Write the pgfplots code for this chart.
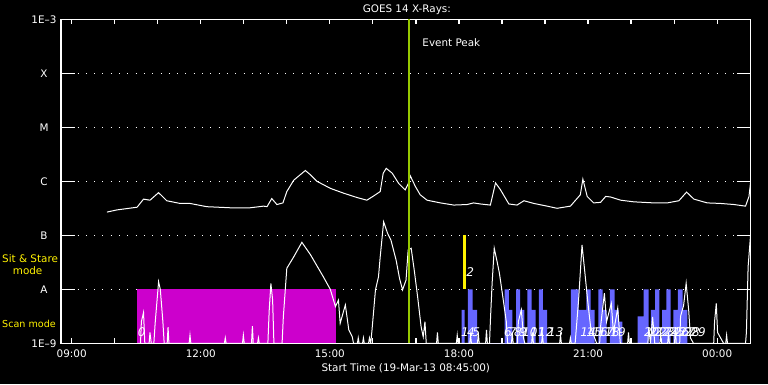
\documentclass[border=0pt]{standalone}
\usepackage{pgfplots}
\pgfplotsset{compat=1.18}
\usepackage{fontspec}
\setmainfont{DejaVu Sans}
\definecolor{scanmag}{RGB}{204,0,204}
\definecolor{scanblue}{RGB}{102,102,255}
\definecolor{peakgreen}{RGB}{150,200,0}
\newcommand{\lbl}{\fontsize{10.4}{12}\selectfont}
\newcommand{\num}{\fontsize{12}{12}\selectfont\itshape}
\begin{document}
\begin{tikzpicture}
\useasboundingbox (0,0) rectangle (768pt,384pt);
\fill[black] (0,0) rectangle (768pt,384pt);
\begin{axis}[
  at={(60.9pt,40.7pt)}, anchor=south west,
  scale only axis, width=689.8pt, height=324pt,
  xmin=8.75, xmax=24.78, ymin=-9, ymax=-3,
  axis line style={white, line width=1.2pt},
  tick style={white, line width=1.2pt},
  tick align=inside, xtick pos=both, ytick pos=both,
  xtick={9,...,24},
  xticklabels={09:00,,,12:00,,,15:00,,,18:00,,,21:00,,,00:00},
  ytick={-9,...,-3},
  yticklabels={1E–9,A,B,C,M,X,1E–3},
  xtick style={/pgfplots/major tick length=5pt},
  ytick style={/pgfplots/major tick length=14pt},
  ymajorgrids,
  grid style={white, line width=1pt, dash pattern=on 1pt off 7.3pt},
  tick label style={white, font=\lbl},
  xticklabel style={anchor=center, yshift=-10.7pt},
  yticklabel style={anchor=center, xshift=-16.9pt},
  xlabel={Start Time (19-Mar-13 08:45:00)},
  xlabel style={white, font=\lbl, at={(axis description cs:0.5,0)}, anchor=center, yshift=-24.7pt},
  no markers,
]
% scan mode block
\addplot[fill=scanmag, draw=none] coordinates {(10.52,-9) (10.52,-8) (15.14,-8) (15.14,-9)} -- cycle;
% scan bars
\addplot[const plot, fill=scanblue, draw=none] coordinates {
(18.06,-9) (18.06,-8.38) (18.13,-9) (18.21,-8) (18.32,-8.38) (18.42,-9)
(19.06,-8) (19.16,-8.38) (19.24,-9) (19.33,-8) (19.42,-8.38) (19.52,-9)
(19.59,-8) (19.69,-8.38) (19.78,-9) (19.86,-8) (19.95,-8.38) (20.05,-9) (20.05,-9)} -- cycle;
\addplot[const plot, fill=scanblue, draw=none] coordinates {
(20.60,-9) (20.60,-8) (20.78,-8.38) (20.96,-8) (21.06,-8.38) (21.15,-9)
(21.24,-8) (21.34,-8.38) (21.43,-9) (21.51,-8) (21.62,-8.38) (21.71,-8.6) (21.80,-9) (21.80,-9)} -- cycle;
\addplot[const plot, fill=scanblue, draw=none] coordinates {
(22.15,-9) (22.15,-8.5) (22.29,-8) (22.41,-9) (22.46,-8.38) (22.56,-8) (22.66,-9)
(22.72,-8.38) (22.82,-8) (22.92,-9) (22.98,-8.38) (23.09,-8) (23.20,-8.38) (23.31,-9) (23.31,-9)} -- cycle;
% sit & stare
\addplot[fill=yellow, draw=none] coordinates {(18.09,-8) (18.09,-7) (18.16,-7) (18.16,-8)} -- cycle;
% long channel
\addplot[white, line width=1pt] coordinates {
(9.82,-6.57) (10.05,-6.53) (10.52,-6.48) (10.67,-6.33) (10.82,-6.35) (11.02,-6.21) (11.21,-6.36)
(11.52,-6.41) (11.75,-6.41) (12.14,-6.47) (12.68,-6.49) (13.15,-6.49) (13.46,-6.46) (13.54,-6.47)
(13.65,-6.32) (13.77,-6.43) (13.91,-6.40) (14.00,-6.19) (14.16,-5.98) (14.31,-5.88) (14.43,-5.80)
(14.55,-5.88) (14.70,-6.00) (15.01,-6.13) (15.32,-6.22) (15.63,-6.30) (15.86,-6.35) (16.02,-6.27)
(16.17,-6.19) (16.24,-5.85) (16.31,-5.76) (16.45,-5.85) (16.60,-6.04) (16.75,-6.16) (16.82,-6.05)
(16.87,-5.90) (16.99,-6.10) (17.10,-6.25) (17.26,-6.35) (17.57,-6.40) (17.88,-6.44) (18.19,-6.43)
(18.34,-6.40) (18.50,-6.42) (18.73,-6.44) (18.85,-6.03) (18.96,-6.15) (19.16,-6.42) (19.35,-6.44)
(19.51,-6.36) (19.74,-6.41) (20.05,-6.46) (20.28,-6.50) (20.59,-6.46) (20.82,-6.25) (20.88,-5.96)
(20.98,-6.28) (21.13,-6.40) (21.29,-6.39) (21.41,-6.28) (21.52,-6.29) (21.76,-6.35) (22.06,-6.38)
(22.53,-6.40) (22.84,-6.40) (23.11,-6.36) (23.29,-6.20) (23.46,-6.33) (23.77,-6.40) (24.08,-6.41)
(24.39,-6.43) (24.66,-6.46) (24.74,-6.28) (24.78,-6.00)};
% short channel
\addplot[white, line width=1pt] coordinates {
(10.54,-9) (10.60,-9) (10.62,-8.6) (10.67,-8.43) (10.70,-9) (10.80,-9) (10.82,-8.8) (10.85,-9)
(10.91,-9) (10.94,-8.63) (11.02,-7.86) (11.06,-8.0) (11.12,-8.6) (11.15,-9) (11.22,-9) (11.24,-8.7)
(11.26,-9) (11.73,-9) (11.75,-8.85) (11.77,-9) (12.55,-9) (12.57,-8.9) (12.59,-9) (12.97,-9)
(12.99,-8.85) (13.01,-9) (13.18,-9) (13.20,-8.68) (13.22,-9) (13.32,-9) (13.34,-8.9) (13.36,-9)
(13.56,-9) (13.59,-8.4) (13.63,-7.89) (13.67,-8.2) (13.70,-9) (13.89,-9) (13.92,-8.5) (14.00,-7.61)
(14.16,-7.40) (14.35,-7.13) (14.55,-7.36) (14.85,-7.77) (15.01,-8.0) (15.13,-8.32) (15.20,-8.20)
(15.24,-8.63) (15.36,-8.29) (15.44,-8.75) (15.52,-8.88) (15.55,-9) (15.64,-9) (15.66,-8.9) (15.68,-9)
(15.76,-9) (15.78,-8.9) (15.80,-9) (15.90,-9) (15.92,-8.9) (15.95,-9) (15.98,-8.75) (16.06,-8.01)
(16.13,-7.77) (16.17,-7.40) (16.25,-6.75) (16.34,-6.96) (16.42,-7.09) (16.54,-7.46) (16.62,-7.80)
(16.69,-8.01) (16.77,-7.83) (16.82,-7.27) (16.89,-7.24) (16.96,-7.64) (17.04,-8.14) (17.12,-8.69)
(17.17,-8.88) (17.21,-8.6) (17.24,-9) (17.48,-9) (17.50,-8.8) (17.52,-9) (17.94,-9) (17.96,-8.85)
(17.98,-9) (18.25,-9) (18.27,-8.85) (18.29,-9) (18.43,-9) (18.45,-8.8) (18.47,-9) (18.62,-9)
(18.64,-8.75) (18.66,-9) (18.71,-9) (18.73,-8.6) (18.77,-7.9) (18.82,-7.24) (18.89,-7.5) (18.94,-7.70)
(19.02,-8.14) (19.10,-8.6) (19.13,-9) (19.22,-9) (19.24,-8.8) (19.26,-9) (19.36,-9) (19.38,-8.6)
(19.45,-8.38) (19.50,-8.9) (19.53,-9) (19.69,-9) (19.71,-8.8) (19.73,-9) (19.92,-9) (19.94,-8.85)
(19.96,-9) (20.34,-9) (20.36,-8.85) (20.38,-9) (20.57,-9) (20.59,-8.9) (20.61,-9) (20.70,-9)
(20.72,-8.8) (20.78,-8.2) (20.86,-7.18) (20.92,-7.64) (20.99,-8.20) (21.06,-8.7) (21.13,-8.85)
(21.20,-9) (21.27,-9) (21.29,-8.7) (21.38,-8.07) (21.43,-8.6) (21.54,-8.26) (21.59,-8.8) (21.69,-8.35)
(21.75,-9) (21.92,-9) (21.94,-8.8) (21.96,-9) (22.39,-9) (22.41,-8.7) (22.45,-9) (22.50,-8.51)
(22.55,-9) (22.67,-9) (22.69,-8.8) (22.71,-9) (22.85,-9) (22.87,-8.8) (22.89,-9) (23.01,-9)
(23.03,-8.7) (23.05,-9) (23.13,-9) (23.15,-8.5) (23.22,-8.3) (23.28,-7.89) (23.34,-8.4) (23.38,-8.9)
(23.45,-9) (23.92,-9) (23.94,-8.6) (23.98,-8.26) (24.01,-8.8) (24.08,-8.9) (24.15,-9) (24.20,-9)
(24.22,-8.85) (24.24,-9) (24.66,-9) (24.68,-8.8) (24.72,-7.58) (24.78,-6.96)};
% event peak
\addplot[peakgreen, line width=2.2pt] coordinates {(16.83,-9) (16.83,-3)};
\node[white, font=\lbl, anchor=west] at (axis cs:17.07,-3.44) {Event Peak};
% scan numbers
\node[white, font=\num] at (axis cs:10.63,-8.8) {0};
\node[white, font=\num] at (axis cs:18.26,-7.68) {2};
\node[white, font=\num] at (axis cs:18.14,-8.8) {1};
\node[white, font=\num] at (axis cs:18.28,-8.8) {4};
\node[white, font=\num] at (axis cs:18.40,-8.8) {5};
\node[white, font=\num] at (axis cs:19.14,-8.8) {6};
\node[white, font=\num] at (axis cs:19.25,-8.8) {7};
\node[white, font=\num] at (axis cs:19.37,-8.8) {8};
\node[white, font=\num] at (axis cs:19.49,-8.8) {9};
\node[white, font=\num] at (axis cs:19.65,-8.8) {10};
\node[white, font=\num] at (axis cs:19.83,-8.8) {11};
\node[white, font=\num] at (axis cs:20.02,-8.8) {12};
\node[white, font=\num] at (axis cs:20.25,-8.8) {13};
\node[white, font=\num] at (axis cs:21.00,-8.8) {14};
\node[white, font=\num] at (axis cs:21.14,-8.8) {15};
\node[white, font=\num] at (axis cs:21.28,-8.8) {16};
\node[white, font=\num] at (axis cs:21.42,-8.8) {17};
\node[white, font=\num] at (axis cs:21.56,-8.8) {18};
\node[white, font=\num] at (axis cs:21.70,-8.8) {19};
\node[white, font=\num] at (axis cs:22.48,-8.8) {20};
\node[white, font=\num] at (axis cs:22.60,-8.8) {21};
\node[white, font=\num] at (axis cs:22.72,-8.8) {22};
\node[white, font=\num] at (axis cs:22.83,-8.8) {23};
\node[white, font=\num] at (axis cs:22.95,-8.8) {24};
\node[white, font=\num] at (axis cs:23.07,-8.8) {25};
\node[white, font=\num] at (axis cs:23.18,-8.8) {26};
\node[white, font=\num] at (axis cs:23.30,-8.8) {27};
\node[white, font=\num] at (axis cs:23.42,-8.8) {28};
\node[white, font=\num] at (axis cs:23.56,-8.8) {29};
\end{axis}
\node[white, font=\lbl] at (406.8pt,374.5pt) {GOES 14 X-Rays:};
\node[yellow, font=\lbl, anchor=west, inner sep=0pt] at (2pt,125pt) {Sit \& Stare};
\node[yellow, font=\lbl, anchor=west, inner sep=0pt] at (12.7pt,113pt) {mode};
\node[yellow, font=\fontsize{9.6}{11}\selectfont, anchor=west, inner sep=0pt] at (2pt,60pt) {Scan mode};
\end{tikzpicture}
\end{document}
